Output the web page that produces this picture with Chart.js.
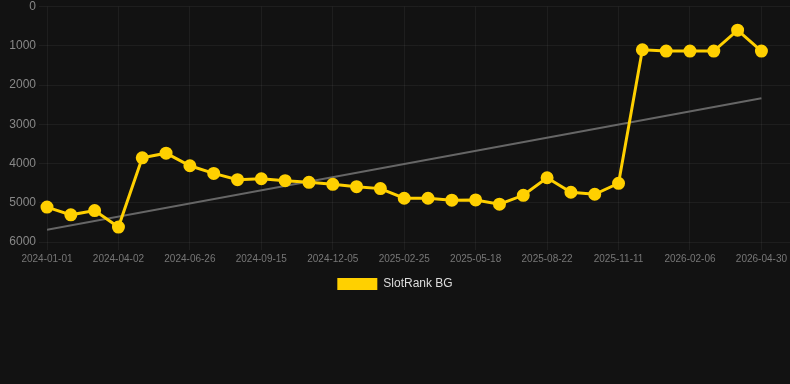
<!DOCTYPE html>
<html>
<head>
<meta charset="utf-8">
<script src="https://cdn.jsdelivr.net/npm/chart.js@4"></script>
<style>
  html, body { margin: 0; padding: 0; background: #121212; }
  #wrap { width: 790px; height: 300px; }
</style>
</head>
<body>
<div id="wrap"><canvas id="grafRank"></canvas></div>
<script>
const dates = ['2024-01-01', '2024-01-31', '2024-03-02', '2024-04-02', '2024-04-30', '2024-05-28',
  '2024-06-26', '2024-07-23', '2024-08-19', '2024-09-15', '2024-10-12', '2024-11-08',
  '2024-12-05', '2025-01-01', '2025-01-28', '2025-02-25', '2025-03-24', '2025-04-21',
  '2025-05-18', '2025-06-19', '2025-07-21', '2025-08-22', '2025-09-18', '2025-10-15',
  '2025-11-11', '2025-12-10', '2026-01-08', '2026-02-06', '2026-03-05', '2026-04-02',
  '2026-04-30']
const rank = [5110, 5308, 5200, 5620, 3855, 3737, 4058, 4252, 4413, 4388, 4438, 4480,
  4530, 4590, 4640, 4885, 4885, 4935, 4928, 5037, 4810, 4363, 4733, 4784,
  4505, 1102, 1135, 1135, 1135, 603, 1135]
// trend line endpoints (first and last date)
const trend = [5688, 2336]
const yTicks = [0, 1000, 2000, 3000, 4000, 5000, 6000]
// every third date gets a label
const xTickIdx = [0, 3, 6, 9, 12, 15, 18, 21, 24, 27, 30]

const ctxRank = document.getElementById('grafRank')
const baseLabels = Chart.defaults.plugins.legend.labels.generateLabels

new Chart(ctxRank, {
  type: 'line',
  data: {
    datasets: [{
      label: 'SlotRank BG',
      data: rank.map((v, i) => ({ x: i, y: v })),
      borderColor: '#ffd000',
      backgroundColor: '#ffd000',
      borderWidth: 3,
      pointRadius: 5,
      pointHoverRadius: 6,
      tension: 0,
      clip: false
    }, {
      label: 'trend',
      data: [{ x: 0, y: trend[0] }, { x: dates.length - 1, y: trend[1] }],
      borderColor: '#666666',
      borderWidth: 2,
      pointRadius: 0,
      tension: 0
    }]
  },
  options: {
    responsive: true,
    maintainAspectRatio: false,
    animation: false,
    layout: {
      autoPadding: false
    },
    plugins: {
      legend: {
        position: 'bottom',
        labels: {
          color: '#dddddd',
          boxWidth: 40,
          boxHeight: 12,
          font: { size: 12, family: 'Liberation Sans, Arial, sans-serif' },
          generateLabels: chart => baseLabels(chart)
            .filter(l => l.text !== 'trend')
            .map(l => ({ ...l, lineWidth: 0 }))
        }
      },
      tooltip: {
        callbacks: {
          title: items => dates[items[0].parsed.x]
        }
      }
    },
    scales: {
      x: {
        type: 'linear',
        min: 0,
        max: 31.2,
        afterBuildTicks: axis => { axis.ticks = xTickIdx.map(v => ({ value: v })) },
        afterFit: axis => { axis.paddingLeft = 0; axis.paddingRight = 0 },
        ticks: {
          autoSkip: false,
          maxRotation: 0,
          color: '#777777',
          font: { size: 10, family: 'Liberation Sans, Arial, sans-serif' },
          callback: v => dates[v]
        },
        grid: { color: 'rgba(255,255,255,0.05)' },
        border: { display: false }
      },
      y: {
        reverse: true,
        min: yTicks[0],
        max: yTicks[yTicks.length - 1],
        afterBuildTicks: axis => { axis.ticks = yTicks.map(v => ({ value: v })) },
        afterFit: axis => { axis.width = 47; axis.paddingTop = 6.5 },
        ticks: {
          color: '#888888',
          font: { size: 12, family: 'Liberation Sans, Arial, sans-serif' },
          callback: v => String(v)
        },
        grid: { color: 'rgba(255,255,255,0.05)' },
        border: { display: false }
      }
    }
  }
});
</script>
</body>
</html>
